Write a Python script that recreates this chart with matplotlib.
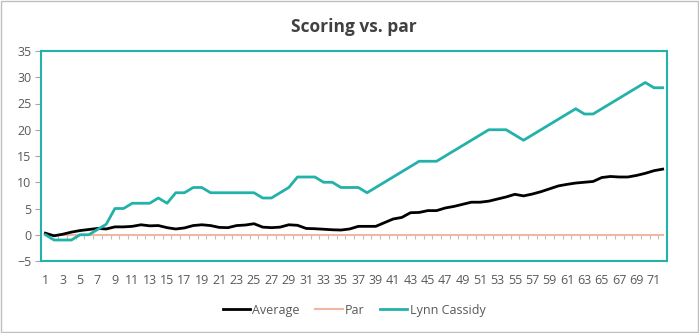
import matplotlib.pyplot as plt
import numpy as np
from matplotlib.patches import Rectangle

plt.rcParams['font.family'] = ['Open Sans', 'DejaVu Sans']

# Round numbers 1..72
rounds = list(range(1, 73))

average = [0.3, -0.2, 0.1, 0.5, 0.8, 1.0, 1.2, 1.1, 1.5, 1.5,
           1.6, 1.9, 1.7, 1.75, 1.35, 1.1, 1.3, 1.75, 1.9, 1.75,
           1.4, 1.35, 1.75, 1.85, 2.1, 1.45, 1.35, 1.45, 1.9, 1.8,
           1.2, 1.15, 1.05, 0.95, 0.9, 1.1, 1.6, 1.6, 1.6, 2.3,
           3.0, 3.3, 4.2, 4.25, 4.6, 4.6, 5.1, 5.4, 5.8, 6.2,
           6.2, 6.4, 6.8, 7.2, 7.7, 7.4, 7.75, 8.2, 8.75, 9.3,
           9.6, 9.85, 10.0, 10.15, 10.9, 11.1, 11.0, 11.0, 11.3, 11.7,
           12.2, 12.5]

par = [0] * 72

lynn_cassidy = [0, -1, -1, -1, 0, 0, 1, 2, 5, 5,
                6, 6, 6, 7, 6, 8, 8, 9, 9, 8,
                8, 8, 8, 8, 8, 7, 7, 8, 9, 11,
                11, 11, 10, 10, 9, 9, 9, 8, 9, 10,
                11, 12, 13, 14, 14, 14, 15, 16, 17, 18,
                19, 20, 20, 20, 19, 18, 19, 20, 21, 22,
                23, 24, 23, 23, 24, 25, 26, 27, 28, 29,
                28, 28]

y_ticks = list(range(-5, 40, 5))
x_labels = rounds[::2]

teal = '#22B2AA'
grey_text = '#595959'

fig = plt.figure(figsize=(6.99, 3.33), dpi=100)
ax = fig.add_axes([41 / 699, 1 - 261 / 333, 626 / 699, 210 / 333])

x = np.array(rounds)
ax.plot(x, par, color='#F4B5A3', lw=1.5, label='Par', zorder=3)
ax.plot(x, average, color='black', lw=2, label='Average', zorder=4)
ax.plot(x, lynn_cassidy, color=teal, lw=2, label='Lynn Cassidy', zorder=4)

# category axis at zero with small ticks between categories
ax.vlines(x - 0.5, -0.75, 0, color='#BFBFBF', lw=0.8, zorder=2)
ax.vlines(x[-1] + 0.5, -0.75, 0, color='#BFBFBF', lw=0.8, zorder=2)

ax.set_xlim(0.5, 72.5)
ax.set_ylim(-5, 35)
ax.set_yticks(y_ticks)
ax.set_xticks(x_labels)
ax.tick_params(axis='x', length=0, pad=9, labelsize=9, labelcolor=grey_text)
ax.tick_params(axis='y', length=4, color='#A6A6A6', pad=3, labelsize=9,
               labelcolor=grey_text)

for s in ax.spines.values():
    s.set_color(teal)
    s.set_linewidth(1.5)

ax.set_title('Scoring vs. par', fontsize=12.5, fontweight='bold', color='#404040',
             pad=14)

handles, labels = ax.get_legend_handles_labels()
order = [1, 0, 2]
ax.legend([handles[i] for i in order], [labels[i] for i in order],
          loc='upper center', bbox_to_anchor=(0.5, -0.15), ncol=3,
          frameon=False, fontsize=9, handlelength=2.2, handletextpad=0.2,
          columnspacing=1.2, labelcolor=grey_text)

fig.patches.append(Rectangle((0.001, 0.002), 0.997, 0.995, transform=fig.transFigure,
                             fill=False, edgecolor='#BFBFBF', lw=1))

fig.savefig('out.png', dpi=100)
